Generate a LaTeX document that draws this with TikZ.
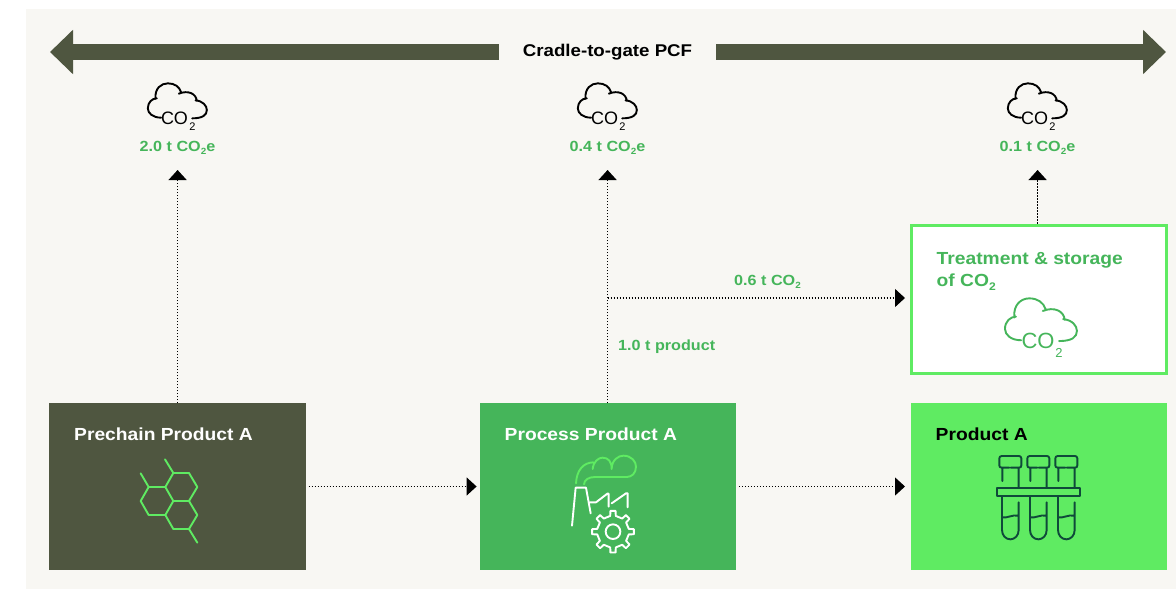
\documentclass[tikz,border=0pt]{standalone}
\usepackage{fontspec}
\setmainfont[FakeStretch=1.1]{Liberation Sans}
\usetikzlibrary{arrows.meta}
\newfontfamily\plainsans{Liberation Sans}
\definecolor{bgcol}{HTML}{F8F7F3}
\definecolor{darkol}{HTML}{4F5640}
\definecolor{midgr}{HTML}{45B55A}
\definecolor{lightgr}{HTML}{5FEB62}
\definecolor{tealdk}{HTML}{0F4A3A}
\newcommand\fs[1]{\fontsize{#1}{#1}\selectfont}
\newcommand\subt{\raisebox{-.4ex}{\fs{9}2}}
\newcommand\subtb{\raisebox{-.45ex}{\fs{11}2}}
\tikzset{
  boxnode/.style={anchor=north west,minimum width=256.2pt,minimum height=167pt,inner sep=0pt,outer sep=0pt},
  boxlabel/.style={anchor=base west,inner sep=0pt,font=\fs{17.5}\bfseries,align=left},
  qty/.style={inner sep=0pt,text=midgr,font=\fs{14.7}\bfseries},
  flow/.style={black,line width=1.1pt,dash pattern=on 1.1pt off 1.9pt,-{Triangle[length=10pt,width=18pt]}},
  bigarrow/.style={darkol,line width=16pt,-{Triangle[length=23pt,width=43pt]}},
  icon/.style={line width=1.9pt,line cap=round,line join=round},
  cloudpic/.pic={
    \draw[icon,scale=1/3]
      (125,128) .. controls (100,128) and (85,115) .. (85,100)
      .. controls (85,82) and (98,70) .. (112,70)
      (108,72) .. controls (105,40) and (125,25) .. (145,25)
      .. controls (165,25) and (180,35) .. (185,52)
      (178,56) .. controls (205,45) and (230,55) .. (232,78)
      (228,76) .. controls (250,78) and (262,92) .. (262,105)
      .. controls (262,120) and (250,130) .. (218,130);
  }
}
\begin{document}
\begin{tikzpicture}[x=1pt,y=-1pt]
\useasboundingbox (0,0) rectangle (1176,589);
\fill[white] (0,0) rectangle (1176,589);
\fill[bgcol] (25.5,9) rectangle (1176,589);

% title and big arrow
\coordinate (tipL) at (50,52);
\coordinate (tipR) at (1166,52);
\node[minimum width=217pt,inner sep=0pt,font=\fs{17}\bfseries] (title) at (607.5,52) {Cradle-to-gate PCF};
\draw[bigarrow] (title.west) -- (tipL);
\draw[bigarrow] (title.east) -- (tipR);

% boxes
\node[boxnode,fill=darkol] (prechain) at (49.4,403) {};
\node[boxnode,fill=midgr] (process) at (479.6,403) {};
\node[boxnode,fill=lightgr] (product) at (911,403) {};
\node[anchor=north west,minimum width=255pt,minimum height=148pt,inner sep=0pt,fill=white,draw=lightgr,line width=3pt] (treat) at (909.5,223.5) {};

\node[boxlabel,text=white] (lprechain) at (74,440.3) {Prechain Product A};
\node[boxlabel,text=white] (lprocess) at (504.5,440.3) {Process Product A};
\node[boxlabel,text=black] (lproduct) at (935.5,440.3) {Product A};
\node[boxlabel,text=midgr] (ltreat1) at (936.5,264.3) {Treatment \& storage};
\node[boxlabel,text=midgr] (ltreat2) at (936.5,286.7) {of CO\subtb};

% clouds
\foreach \dx/\nm/\val in {0/a/2.0,430/b/0.4,860/c/0.1}{
  \pic[black] at (119.5+\dx,75) {cloudpic};
  \node[inner sep=0pt,font=\plainsans\fs{18}] (co\nm) at (174.5+\dx,118.5) {CO};
  \node[inner sep=0pt,font=\plainsans\fs{11}] (cosub\nm) at (192.5+\dx,127) {2};
  \node[qty,anchor=base] (val\nm) at (177.5+\dx,151.7) {\val\ t CO\subt e};
  \coordinate (top\nm) at (177.6+\dx,170);
}
\pic[midgr,scale=1.22] at (970.4,288.2) {cloudpic};
\node[inner sep=0pt,text=midgr,font=\plainsans\fs{22}] (cobig) at (1038,341) {CO};
\node[inner sep=0pt,text=midgr,font=\plainsans\fs{13}] (cobigsub) at (1059,352.5) {2};

% connectors
\coordinate (branch) at (607.6,298);
\draw[flow] (prechain.north -| topa) -- (topa);
\draw[flow] (process.north -| topb) -- (topb);
\draw[flow] (treat.north -| topc) -- (topc);
\draw[flow,shorten >=4.5pt] (branch) -- (branch -| treat.west);
\draw[flow,shorten <=3pt,shorten >=3pt] (prechain.east) -- (process.west);
\draw[flow,shorten <=3pt,shorten >=6pt] (process.east) -- (product.west);
\node[qty,anchor=base] (lco) at (767.5,285) {0.6 t CO\subt};
\node[qty,anchor=base west] (lprod) at (618,350) {1.0 t product};

% hexagon icon
\begin{scope}[shift={(40,395)},scale=1/3]
\draw[icon,lightgr]
  (400,234) -- (447,234) -- (472,276) -- (447,318) -- (400,318) -- (376,276) -- cycle
  (326,276) -- (376,276) (400,318) -- (376,360) -- (326,360) -- (302,318) -- (326,276)
  (376,360) -- (400,402) -- (447,402) -- (472,360) -- (447,318)
  (400,234) -- (375,193) (326,276) -- (302,235) (447,402) -- (472,443);
\end{scope}

% factory icon
\begin{scope}[shift={(470,395)},scale=1/3]
\draw[icon,lightgr]
  (318,265) .. controls (320,225) and (340,203) .. (370,202)
  (368,222) .. controls (370,200) and (385,188) .. (398,188)
  .. controls (415,188) and (425,200) .. (425,222)
  .. controls (425,195) and (445,182) .. (460,182)
  .. controls (485,182) and (498,200) .. (498,215)
  .. controls (498,235) and (485,246) .. (470,246)
  -- (375,246) .. controls (355,246) and (343,255) .. (342,268);
\draw[icon,white]
  (306,392) -- (317,278) -- (348,278) -- (362,355)
  (360,322) -- (378,322) -- (412,296) -- (416,296) -- (416,335)
  (425,325) -- (468,295) -- (473,295) -- (473,337);
\begin{scope}[shift={(429,410)}]
\draw[icon,white] (0:22) arc[start angle=0,end angle=360,radius=22];
\draw[icon,white] (-10:48) \foreach \a in {0,45,...,315}{ -- (\a-10:48) -- (\a-7:63) -- (\a+7:63) -- (\a+10:48)} -- cycle;
\end{scope}
\end{scope}

% test tubes icon
\begin{scope}[shift={(890,395)},scale=1/3]
\foreach \dx in {0,84,168}{
\begin{scope}[shift={(\dx,0)}]
\draw[icon,tealdk]
  (358,218) -- (335,218) .. controls (330,218) and (328,215) .. (328,211) -- (328,190)
  .. controls (328,186) and (331,183) .. (335,183) -- (387,183)
  .. controls (391,183) and (394,186) .. (394,190) -- (394,211)
  .. controls (394,215) and (392,218) .. (387,218) -- (362,218)
  (337,218) -- (337,258) (386,218) -- (386,278)
  (336,304) -- (336,405) .. controls (336,422) and (348,433) .. (361,433)
  .. controls (374,433) and (386,422) .. (386,405) -- (386,322)
  (336,367) .. controls (355,370) and (365,358) .. (386,362);
\end{scope}
}
\draw[icon,tealdk] (320,278) rectangle (571,304);
\end{scope}
\end{tikzpicture}
\end{document}
